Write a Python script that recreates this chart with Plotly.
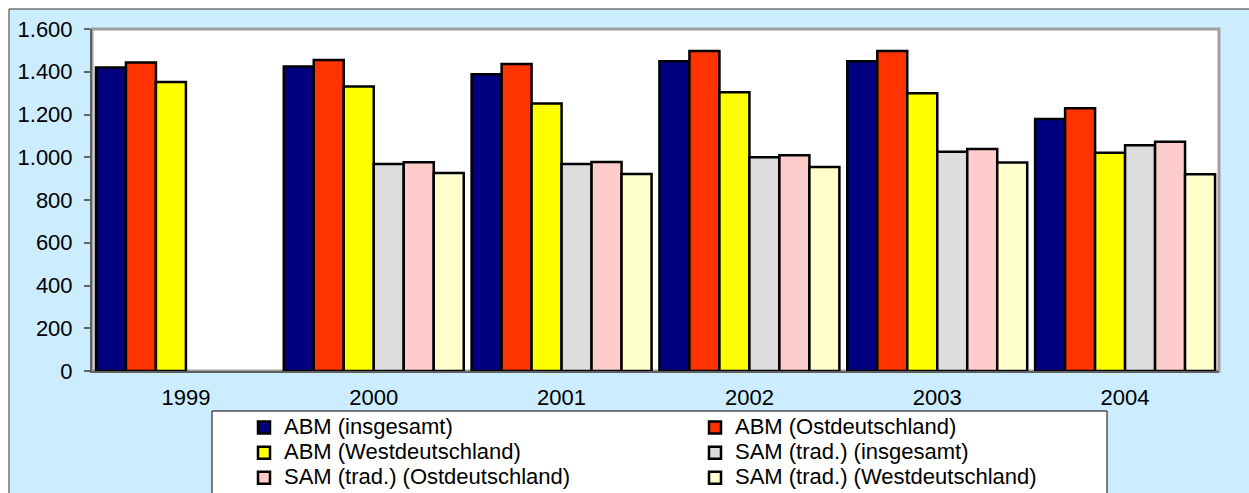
import plotly.graph_objects as go

# Jahre und Werte
years = ["1999", "2000", "2001", "2002", "2003", "2004"]

abm_gesamt = [1420, 1424, 1388, 1449, 1449, 1179]
abm_ost = [1443, 1455, 1436, 1497, 1497, 1229]
abm_west = [1352, 1331, 1252, 1304, 1299, 1021]
sam_gesamt = [None, 968, 968, 1000, 1026, 1056]
sam_ost = [None, 977, 978, 1009, 1039, 1073]
sam_west = [None, 926, 922, 954, 976, 920]

series_names = [
    "ABM (insgesamt)",
    "ABM (Ostdeutschland)",
    "ABM (Westdeutschland)",
    "SAM (trad.) (insgesamt)",
    "SAM (trad.) (Ostdeutschland)",
    "SAM (trad.) (Westdeutschland)",
]
series_values = [abm_gesamt, abm_ost, abm_west, sam_gesamt, sam_ost, sam_west]
series_colors = ["#000080", "#FF3300", "#FFFF00", "#DDDDDD", "#FFCCCC", "#FFFFCC"]

W, H = 1249, 493
L, R, T, B = 92, 30, 29, 122
pw, ph = W - L - R, H - T - B


def px_x(p):
    # page pixel -> paper fraction
    return (p - L) / pw


def px_y(p):
    return (H - B - p) / ph


fig = go.Figure()

for name, vals, col in zip(series_names, series_values, series_colors):
    fig.add_trace(go.Bar(
        x=years,
        y=vals,
        name='<span style="font-size:22px">%s</span>' % name,
        marker=dict(color=col, line=dict(color="black", width=2.5)),
    ))

fig.update_layout(
    width=W,
    height=H,
    margin=dict(l=L, r=R, t=T, b=B, pad=0, autoexpand=False),
    barmode="group",
    bargap=0.042,
    bargroupgap=0,
    paper_bgcolor="white",
    plot_bgcolor="white",
    separators=",.",
    font=dict(family="Liberation Sans, Arial, sans-serif", color="black"),
    showlegend=True,
    legend=dict(
        orientation="h",
        x=px_x(244),
        xanchor="left",
        y=px_y(410),
        yanchor="top",
        bgcolor="rgba(0,0,0,0)",
        borderwidth=0,
        entrywidth=406,
        font=dict(size=17),
    ),
    shapes=[
        # Diagrammfläche (hellblau)
        dict(type="rect", xref="paper", yref="paper", layer="below",
             x0=px_x(9), x1=px_x(1280), y0=px_y(520), y1=px_y(9),
             fillcolor="#CCECFF", line=dict(color="#333333", width=1)),
        # Zeichnungsfläche (weiß)
        dict(type="rect", xref="paper", yref="paper", layer="below",
             x0=0, x1=1, y0=0, y1=1,
             fillcolor="white", line=dict(color="#A0A0A0", width=3)),
        # Legendenrahmen
        dict(type="rect", xref="paper", yref="paper", layer="below",
             x0=px_x(212), x1=px_x(1107), y0=px_y(520), y1=px_y(411),
             fillcolor="white", line=dict(color="black", width=1)),
    ],
)

fig.update_xaxes(
    type="category",
    showline=True,
    linecolor="#606060",
    linewidth=2,
    ticks="",
    ticklabelstandoff=6,
    showgrid=False,
    tickfont=dict(size=22),
)

fig.update_yaxes(
    range=[0, 1600],
    dtick=200,
    tickformat=",.0f",
    showline=True,
    linecolor="#606060",
    linewidth=2,
    ticks="outside",
    ticklen=6,
    tickwidth=2,
    tickcolor="#606060",
    ticklabelstandoff=7,
    showgrid=False,
    zeroline=False,
    tickfont=dict(size=22),
)

# kein Seitenrand um die Grafik, keine Modebar
fig.write_html(
    "out.html",
    config={"displayModeBar": False},
    post_script="document.body.style.margin='0';",
)
